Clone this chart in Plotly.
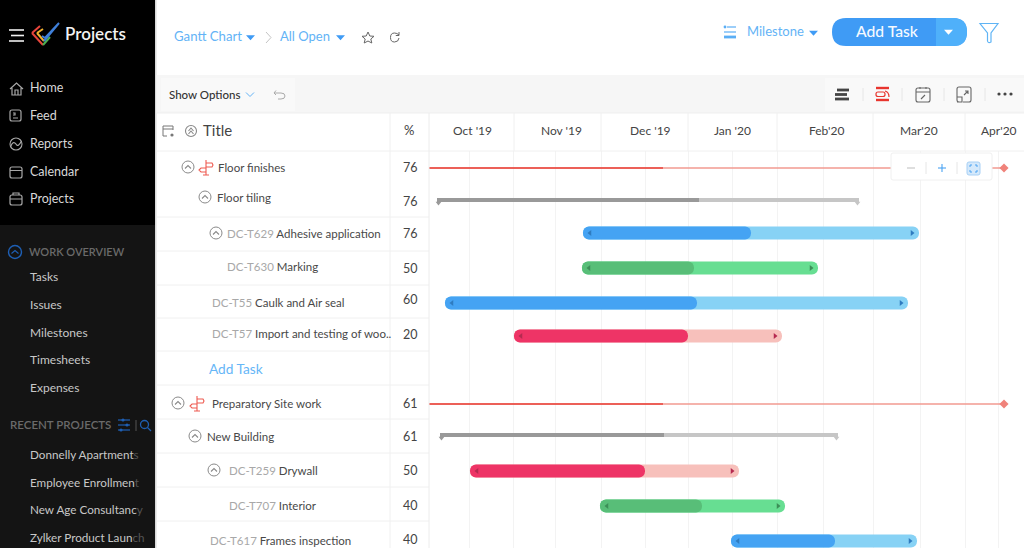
import plotly.graph_objects as go

# timeline, in axis units from the left edge of the chart pane
month_labels = ["Oct '19", "Nov '19", "Dec '19", "Jan '20", "Feb'20", "Mar'20", "Apr'20"]
month_label_pos = [43, 132, 221, 303, 397, 490, 570]
month_lines = [0, 85, 172, 259, 348, 444, 536]
grid_lines = [40, 84, 126, 172, 216, 259, 303, 348, 394, 444, 491, 536, 569]

# tasks
task_names = ["Adhesive", "Marking", "Caulk", "Import", "Drywall", "Interior", "Frames"]
task_row = [233, 268, 303, 336, 471, 506, 541]
task_start = [154, 153, 16, 85, 41, 171, 302]
task_done = [322, 265, 268, 259, 216, 273, 406]
task_end = [490, 389, 479, 353, 310, 356, 488]
task_dark = ["#45a3f3", "#58be78", "#45a3f3", "#ee3466", "#ee3466", "#58be78", "#45a3f3"]
task_light = ["#87d2f5", "#67de92", "#87d2f5", "#f7c0bb", "#f7c0bb", "#67de92", "#87d2f5"]
task_arrow = ["#2f7cc0", "#3c8f57", "#2f7cc0", "#b52a50", "#b52a50", "#3c8f57", "#2f7cc0"]

# summary bars
group_row = [200, 435]
group_start = [8, 11]
group_done = [270, 235]
group_end = [430, 409]

# milestone lines
mile_row = [168, 404]
mile_start = [0, 0]
mile_done = [234, 234]
mile_end = [575, 575]

# table
row_lines = [151, 217, 251, 285, 318, 351, 385, 419, 453, 487, 521]
pct_values = ["76", "76", "76", "50", "60", "20", "61", "61", "50", "40", "40"]
pct_rows = [168, 202, 234, 269, 300, 335, 404, 437, 471, 506, 540]

title_x = [218, 217, 227, 227, 212, 212, 212, 207, 229, 229, 210]
title_y = [168, 198, 234, 267, 303, 334, 404, 437, 471, 506, 541]
title_id = ["", "", "DC-T629", "DC-T630", "DC-T55", "DC-T57", "", "", "DC-T259", "DC-T707", "DC-T617"]
title_text = ["Floor finishes", "Floor tiling", "Adhesive application", "Marking", "Caulk and Air seal",
              "Import and testing of woo..", "Preparatory Site work", "New Building", "Drywall", "Interior",
              "Frames inspection"]
collapse_x = [188, 205, 216, 0, 0, 0, 178, 195, 214, 0, 0]

# sidebar
nav_top = ["Home", "Feed", "Reports", "Calendar", "Projects"]
nav_top_y = [88, 116, 144, 172, 199]
nav_work = ["Tasks", "Issues", "Milestones", "Timesheets", "Expenses"]
nav_work_y = [277, 305, 333, 360, 388]
nav_recent = ["Donnelly Apartment", "Employee Enrollmen", "New Age Consultanc", "Zylker Product Laun"]
nav_recent_fade = ["s", "t", "y", "ch"]
nav_recent_y = [455, 483, 510, 538]

FONT = "Lato"
BLUE = "#63b3f6"
shapes = []
notes = []


def rect(x0, y0, x1, y1, fill, layer="below"):
    shapes.append(dict(type="rect", xref="x2", yref="y2", x0=x0, y0=y0, x1=x1, y1=y1,
                       fillcolor=fill, line_width=0, layer=layer))


def line(x0, y0, x1, y1, color, width=1, layer="below"):
    shapes.append(dict(type="line", xref="x2", yref="y2", x0=x0, y0=y0, x1=x1, y1=y1,
                       line=dict(color=color, width=width), layer=layer))


def path(d, color=None, width=1.2, fill=None, layer="above"):
    shapes.append(dict(type="path", xref="x2", yref="y2", path=d, layer=layer,
                       line=dict(color=color or "rgba(0,0,0,0)", width=width),
                       fillcolor=fill or "rgba(0,0,0,0)"))


def rrect(x0, y0, x1, y1, r):
    return (f"M{x0+r},{y0} L{x1-r},{y0} Q{x1},{y0} {x1},{y0+r} L{x1},{y1-r} Q{x1},{y1} {x1-r},{y1} "
            f"L{x0+r},{y1} Q{x0},{y1} {x0},{y1-r} L{x0},{y0+r} Q{x0},{y0} {x0+r},{y0} Z")


def circle(cx, cy, r, color, width=1.1):
    shapes.append(dict(type="circle", xref="x2", yref="y2", x0=cx-r, y0=cy-r, x1=cx+r, y1=cy+r,
                       line=dict(color=color, width=width), layer="above"))


def dot(cx, cy, r, color):
    shapes.append(dict(type="circle", xref="x2", yref="y2", x0=cx-r, y0=cy-r, x1=cx+r, y1=cy+r,
                       fillcolor=color, line_width=0, layer="above"))


def caret(cx, cy, color, s=4.5):
    path(f"M{cx-s},{cy-2.2} L{cx+s},{cy-2.2} L{cx},{cy+2.8} Z", fill=color, width=0)


def chevron_up(cx, cy, color, s=3.5):
    path(f"M{cx-s},{cy+1.5} L{cx},{cy-1.5} L{cx+s},{cy+1.5}", color=color, width=1.1)


def label(x, y, text, size=12, color="#444444", anchor="left", weight=400):
    # text sits about a pixel low and to the right of the given spot, nudge it back
    notes.append(dict(xref="x2", yref="y2", x=x - 1 if anchor == "left" else x, y=y - 0.8, text=text, showarrow=False,
                      xanchor=anchor, yanchor="middle", borderpad=0,
                      font=dict(family=FONT, size=size, color=color, weight=weight)))


# panels
rect(0, 0, 155, 225, "#000000")
rect(0, 225, 155, 548, "#141414")
rect(155, 0, 156.5, 548, "#d9d9d9")
rect(156.5, 75, 1024, 113, "#f6f6f6")
rect(161, 78, 295, 111, "#f9f9f9")
rect(825, 78, 1024, 111, "#f9f9f9")

# sidebar content
for y_ in [30, 41]:
    line(9, y_, 24, y_, "#f0f0f0", 1.6)
line(11, 35.5, 24, 35.5, "#f0f0f0", 1.6)
path("M32,33 L40,26 M32,33 L43,45", color="#e8453c", width=2)
path("M37,33 L43,29 M37,33 L44,41", color="#f2b230", width=2)
path("M43,45 L50,37", color="#4caf50", width=2)
path("M44,41 L59,23 M42,36 L45,38 L59,23", color="#3f7fd8", width=2)
label(65, 34, "Projects", 17, "#f2f2f2", weight=600)

for name, y_ in zip(nav_top, nav_top_y):
    label(30, y_, name, 12.5, "#d8d8d8")
icon_c = "#a8a8a8"
path("M10,89 L16.5,83 L23,89 M12,88 L12,95 L21,95 L21,88 M15,95 L15,90 L18,90 L18,95", color=icon_c)
path(rrect(10, 110, 21, 121, 2) + " M13,113 L15,113 L15,115 L13,115 M13,118 L18,118", color=icon_c)
circle(16, 144, 6, icon_c)
path("M10.5,147 Q13,140 16,144 Q18,148 21.5,141", color=icon_c)
path(rrect(10, 167, 22, 178, 2) + " M10,170.5 L22,170.5", color=icon_c)
path(rrect(10, 195, 22, 205, 2) + " M13,195 L13,193 L19,193 L19,195 M10,199 L22,199", color=icon_c)

circle(15, 252, 6.5, "#1e5fb4", 1.4)
chevron_up(15, 252, "#1e5fb4")
label(29, 252, "WORK OVERVIEW", 11, "#6a6a6a", weight=600)
for name, y_ in zip(nav_work, nav_work_y):
    label(30, y_, name, 12, "#c8c8c8")
label(10, 425, "RECENT PROJECTS", 11.5, "#6a6a6a", weight=600)
for y_, dx in zip([420, 425, 430], [123, 127, 121]):
    line(118, y_, 130, y_, "#1e5fb4", 1.2)
    dot(dx, y_, 1.6, "#1e5fb4")
line(136, 420, 136, 431, "#555555", 1)
circle(144.5, 424.5, 4, "#1e5fb4", 1.3)
line(147.5, 427.5, 151, 431, "#1e5fb4", 1.3)
for name, fade, y_ in zip(nav_recent, nav_recent_fade, nav_recent_y):
    label(30, y_, f"{name}<span style='color:#555555'>{fade}</span>", 11.7, "#c8c8c8")

# top bar
label(174, 37, "Gantt Chart", 13.2, BLUE)
caret(250.5, 37.5, "#3f9bf5")
path("M266,32 L271,37.5 L266,43", color="#c4c4c4", width=1)
label(280, 37, "All Open", 13, BLUE)
caret(340.5, 37.5, "#3f9bf5")
path("M368,32 L369.8,36 L374,36.3 L370.8,39 L371.8,43 L368,41 L364.2,43 L365.2,39 L362,36.3 "
     "L366.2,36 Z", color="#666666", width=1)
path("M399,35 Q397,33 394.5,33 Q390.5,33 390.5,37.5 Q390.5,42 394.5,42 Q398.5,42 399,38 M399,32 L399,35.5 "
     "L395.8,35.5", color="#666666", width=1)

for y_, x0_, w in [(27, 727, 1.2), (32, 724, 1.2), (37, 724, 2.8)]:
    line(x0_, y_, 736, y_, "#5aaef5", w)
dot(725, 27, 1.4, "#5aaef5")
label(747, 32, "Milestone", 13, BLUE)
caret(813.5, 33, "#3f9bf5")
path(rrect(832, 18, 967, 46, 14), fill="#3f9bf5", width=0)
path("M936,18 L953,18 Q967,18 967,32 Q967,46 953,46 L936,46 Z", fill="#4fb0fa", width=0)
label(887, 32, "Add Task", 15.7, "#f4f9ff", anchor="center", weight=500)
caret(948.5, 32, "#ffffff")
path("M980,23.5 L998,23.5 L991,33 L991,42 Q988,43.5 987.5,41 L987.5,33 Z", color="#5fb4f5", width=1.2)

# options bar
label(169, 95, "Show Options", 11.5, "#333333", weight=500)
path("M246,92.5 L250,96.5 L254,92.5", color=BLUE, width=1)
path("M276,90.5 L274,93 L276,95 M274,93 L281,93 Q285,93 285,96 Q285,99 281,99 L278,99", color="#aaaaaa", width=1)
for y_, x0_, x1_ in [(90, 837, 849), (94.5, 835, 847), (99, 835, 849)]:
    line(x0_, y_, x1_, y_, "#444444", 2.8)
path("M876,88 L889,88", color="#e8352e", width=2.4)
path(rrect(876, 92, 885, 96.5, 2) + " M885,91 Q889,92 889,97", color="#e8352e", width=1.2)
path("M876,100 L889,100", color="#e8352e", width=2.4)
path(rrect(916, 88, 930, 102, 2) + " M916,92 L930,92 M920,87 L920,89 M926,87 L926,89 M921,99 L925,95",
     color="#666666", width=1.1)
path("M960,102 L959,102 Q957,102 957,100 L957,89 Q957,87 959,87 L969,87 Q971,87 971,89 L971,100 Q971,102 969,102 "
     "L963,102 M957,97 L962,97 L962,102 L957,102 M964,95 L968,91 M965,91 L968,91 L968,94", color="#666666", width=1.1)
for x_ in [999, 1005, 1011]:
    dot(x_, 94, 1.6, "#444444")
for x_ in [863, 902, 944, 985]:
    line(x_, 88, x_, 101, "#e6e6e6", 1)

# table
label(203, 131, "Title", 15, "#444444")
label(404, 131, "%", 13, "#444444")
path("M167,136 L163,136 L163,126 L173,126 L173,130 M163,129 L173,129", color="#777777", width=1)
dot(172, 135, 1.6, "#777777")
circle(191, 131, 5.5, "#888888")
chevron_up(191, 129.5, "#888888", 2.5)
chevron_up(191, 132.5, "#888888", 2.5)

for y_ in row_lines:
    line(156.5, y_, 429, y_, "#f0f0f0", 1)
line(156.5, 113, 1024, 113, "#efefef", 1)
line(429, 151, 1024, 151, "#f0f0f0", 1)
line(390, 113, 390, 548, "#f0f0f0", 1)
line(429, 113, 429, 548, "#ececec", 1)
for m in month_lines[1:]:
    line(429 + m, 113, 429 + m, 151, "#f0f0f0", 1)
for m, pos in zip(month_labels, month_label_pos):
    label(429 + pos, 131, m, 12, "#444444", anchor="center")

for x_, y_, tid, txt in zip(title_x, title_y, title_id, title_text):
    if tid:
        label(x_, y_, f"<span style='color:#a8a8a8'>{tid}</span> {txt}", 11.5, "#484848")
    else:
        label(x_, y_, txt, 11.5, "#484848")
for x_, y_ in zip(collapse_x, title_y):
    if x_:
        circle(x_, y_ - 1, 6, "#8a8a8a", 1)
        chevron_up(x_, y_ - 1, "#8a8a8a", 3)
for v, y_ in zip(pct_values, pct_rows):
    label(410, y_, v, 12.5, "#444444", anchor="center")
label(209, 369, "Add Task", 13.7, "#66b6f7")

# milestone flags
for cx, cy in [(206, 168), (197, 404)]:
    path(f"M{cx},{cy-8} L{cx},{cy+7} M{cx-3},{cy+7} L{cx+3},{cy+7} M{cx},{cy-5} L{cx+6},{cy-5} L{cx+7},{cy-3} "
         f"L{cx+6},{cy-1} L{cx},{cy-1} M{cx},{cy} L{cx-5},{cy} L{cx-7},{cy+2} L{cx-5},{cy+4} L{cx},{cy+4}",
         color="#ee5a50", width=1.1)

# zoom box over the chart
path(rrect(891, 153, 992, 180, 2), fill="#ffffff", color="#f0f0f0", width=1)
line(907, 168, 915, 168, "#c4c4c4", 1.1, "above")
line(926, 162, 926, 174, "#e6e6e6", 1, "above")
line(938, 168, 946, 168, "#4aa3f3", 1.1, "above")
line(942, 164, 942, 172, "#4aa3f3", 1.1, "above")
line(957, 162, 957, 174, "#e6e6e6", 1, "above")
path(rrect(967, 162, 980, 175, 2), fill="#d5e9fb", color="#a8d0f5", width=1)
path("M970,167 L970,165 L972,165 M975,165 L977,165 L977,167 M977,170 L977,172 L975,172 M972,172 L970,172 L970,170",
     color="#4aa3f3", width=1)

# gantt rows
fig = go.Figure()
for i in range(len(task_names)):
    fig.add_trace(go.Bar(y=[task_row[i]], x=[task_end[i] - task_start[i]], base=[task_start[i]], orientation="h",
                         width=13, marker=dict(color=task_light[i], cornerradius=6, line_width=0)))
    fig.add_trace(go.Bar(y=[task_row[i]], x=[task_done[i] - task_start[i]], base=[task_start[i]], orientation="h",
                         width=13, marker=dict(color=task_dark[i], cornerradius=6, line_width=0)))
    fig.add_trace(go.Scatter(x=[task_start[i] + 7, task_end[i] - 7], y=[task_row[i], task_row[i]], mode="markers",
                             marker=dict(symbol=["triangle-left", "triangle-right"], size=5, color=task_arrow[i])))

for i in range(len(group_row)):
    fig.add_trace(go.Bar(y=[group_row[i]], x=[group_end[i] - group_start[i]], base=[group_start[i]], orientation="h",
                         width=4, marker=dict(color="#c6c6c6", line_width=0)))
    fig.add_trace(go.Bar(y=[group_row[i]], x=[group_done[i] - group_start[i]], base=[group_start[i]], orientation="h",
                         width=4, marker=dict(color="#999999", line_width=0)))
    fig.add_trace(go.Scatter(x=[group_start[i] + 1.5, group_end[i] - 1.5], y=[group_row[i] + 3, group_row[i] + 3],
                             mode="markers", marker=dict(symbol=["triangle-down", "triangle-down"], size=5,
                                                         color=["#999999", "#c6c6c6"])))

for i in range(len(mile_row)):
    fig.add_trace(go.Scatter(x=[mile_start[i], mile_end[i]], y=[mile_row[i], mile_row[i]], mode="lines",
                             line=dict(color="#f29a90", width=1.6)))
    fig.add_trace(go.Scatter(x=[mile_start[i], mile_done[i]], y=[mile_row[i], mile_row[i]], mode="lines",
                             line=dict(color="#e8453c", width=1.6)))
    fig.add_trace(go.Scatter(x=[mile_end[i]], y=[mile_row[i]], mode="markers",
                             marker=dict(symbol="diamond", size=7, color="#f0827a")))

# invisible full page axes carry the app chrome
fig.add_trace(go.Scatter(x=[0], y=[0], xaxis="x2", yaxis="y2", mode="markers", marker=dict(opacity=0)))

fig.update_layout(
    width=1024, height=548, margin=dict(l=0, r=0, t=0, b=0), showlegend=False, barmode="overlay",
    paper_bgcolor="#ffffff", plot_bgcolor="rgba(0,0,0,0)", shapes=shapes, annotations=notes,
    xaxis=dict(domain=[429 / 1024, 1], range=[0, 595], tickvals=grid_lines, showticklabels=False, ticks="",
               showgrid=True, gridcolor="#f3f3f3", gridwidth=1, zeroline=False, showline=False),
    yaxis=dict(domain=[0, 1 - 151 / 548], range=[548, 151], showticklabels=False, ticks="", showgrid=False,
               zeroline=False, showline=False),
    xaxis2=dict(domain=[0, 1], range=[0, 1024], visible=False, anchor="y2"),
    yaxis2=dict(domain=[0, 1], range=[548, 0], visible=False, anchor="x2"),
)
# page body has a default margin, drop it so the figure fills the window
fig.write_html("out.html", config=dict(displayModeBar=False),
               post_script="document.body.style.margin='0';document.body.style.overflow='hidden';")
